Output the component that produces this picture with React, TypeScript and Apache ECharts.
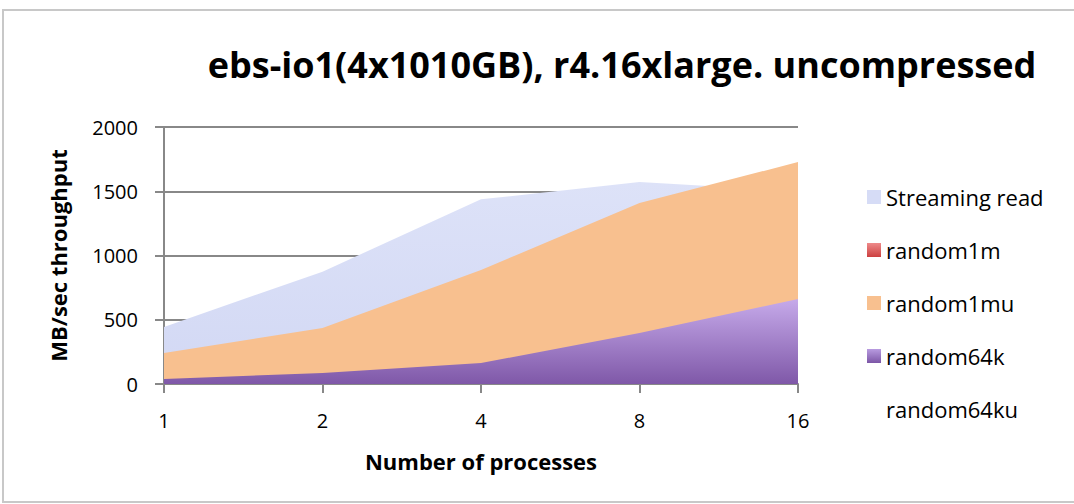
import React, { useEffect, useRef } from "react";
import * as echarts from "echarts";

const title = "ebs-io1(4x1010GB), r4.16xlarge. uncompressed";
const categories = ["1", "2", "4", "8", "16"];
const streamingRead = [444, 874, 1437, 1572, 1500];
const random1m = [200, 400, 800, 1300, 1600];
const random1mu = [241, 436, 887, 1408, 1727];
const random64k = [39, 86, 163, 397, 661];
const random64ku: (number | null)[] = [null, null, null, null, null];
const yTicks = [0, 500, 1000, 1500, 2000];

const FONT = "'Open Sans', 'Noto Sans', sans-serif";

export default function App() {
  const ref = useRef<HTMLDivElement>(null);
  useEffect(() => {
    if (!ref.current) return;
    const chart = echarts.init(ref.current, null, { renderer: "svg" });
    const grad = (top: string, bottom: string) =>
      new echarts.graphic.LinearGradient(0, 0, 0, 1, [
        { offset: 0, color: top },
        { offset: 1, color: bottom },
      ]);
    const area = (name: string, data: (number | null)[], color: any, z: number) => ({
      name,
      type: "line",
      data,
      symbol: "none",
      lineStyle: { width: 0 },
      areaStyle: { color, opacity: 1 },
      itemStyle: { color },
      z,
    });
    chart.setOption({
      animation: false,
      textStyle: { fontFamily: FONT },
      title: {
        text: title,
        left: 617,
        top: 41,
        textAlign: "center",
        textStyle: { fontSize: 36, fontWeight: "bold", color: "#000", fontFamily: FONT },
      },
      graphic: [
        {
          type: "rect",
          shape: { x: 3, y: 10, width: 1080, height: 492 },
          style: { fill: "none", stroke: "#c8c8c8", lineWidth: 2 },
          silent: true,
        },
      ],
      legend: {
        orient: "vertical",
        left: 862,
        top: 181,
        itemWidth: 14,
        itemHeight: 14,
        itemGap: 31,
        icon: "rect",
        textStyle: { fontSize: 22, color: "#000", fontFamily: FONT },
        data: [
          { name: "Streaming read", itemStyle: { color: "#d6dcf6" } },
          { name: "random1m", itemStyle: { color: grad("#ee8a8a", "#cc4040") } },
          { name: "random1mu", itemStyle: { color: "#f8c08f" } },
          { name: "random64k", itemStyle: { color: grad("#b89be0", "#7c56a6") } },
          { name: "random64ku", itemStyle: { color: "rgba(0,0,0,0)", opacity: 0 } },
        ],
      },
      grid: { left: 164, right: 276, top: 127, bottom: 120 },
      xAxis: {
        type: "category",
        data: categories,
        boundaryGap: false,
        name: "Number of processes",
        nameLocation: "middle",
        nameGap: 66,
        nameTextStyle: { fontSize: 22, fontWeight: "bold", color: "#000" },
        axisLine: { lineStyle: { color: "#888", width: 2 } },
        axisTick: { show: true, length: 9, lineStyle: { color: "#888", width: 2 } },
        axisLabel: { fontSize: 20, color: "#000", margin: 26 },
      },
      yAxis: {
        type: "value",
        min: yTicks[0],
        max: yTicks[yTicks.length - 1],
        interval: 500,
        name: "MB/sec throughput",
        nameLocation: "middle",
        nameGap: 95,
        nameTextStyle: { fontSize: 22, fontWeight: "bold", color: "#000" },
        axisLine: { show: true, lineStyle: { color: "#888", width: 2 } },
        axisTick: { show: true, length: 9, lineStyle: { color: "#888", width: 2 } },
        axisLabel: { fontSize: 20, color: "#000", margin: 26, formatter: (v: number) => String(v) },
        splitLine: { lineStyle: { color: "#888", width: 2 } },
      },
      series: [
        area("Streaming read", streamingRead, grad("#dde2f8", "#d2d8f4"), 1),
        area("random1m", random1m, grad("#ee8a8a", "#cc4040"), 2),
        area("random1mu", random1mu, "#f8c08f", 3),
        area("random64k", random64k, grad("#c6aaea", "#7f58a8"), 4),
        area("random64ku", random64ku, "rgba(0,0,0,0)", 5),
      ],
    });
    return () => chart.dispose();
  }, []);
  return <div ref={ref} style={{ width: 1074, height: 504, position: "absolute", left: 0, top: 0 }} />;
}
